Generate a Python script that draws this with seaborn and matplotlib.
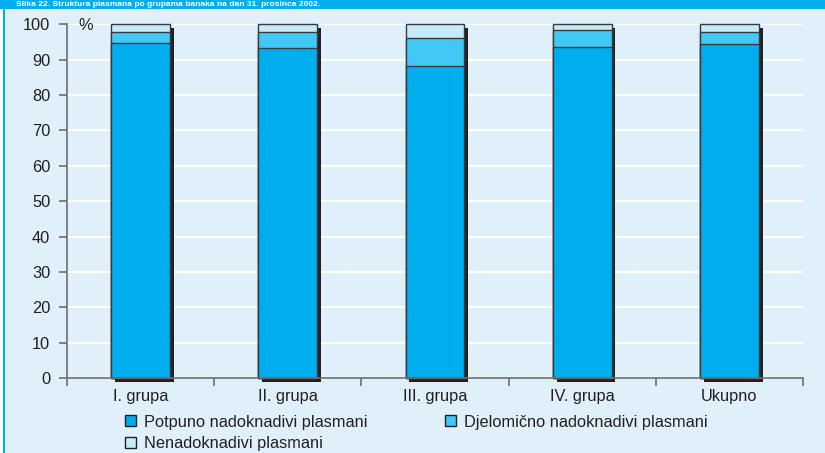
import matplotlib
matplotlib.use('Agg')
import matplotlib.pyplot as plt
import matplotlib.patheffects as pe
from matplotlib.patches import Patch, Rectangle
import seaborn as sns

# podaci procitani sa slike (%)
grupe = ['I. grupa', 'II. grupa', 'III. grupa', 'IV. grupa', 'Ukupno']
potpuno = [94.6, 93.2, 88.1, 93.7, 94.3]
djelomicno = [3.3, 4.5, 7.9, 4.6, 3.4]
nenadoknadivi = [2.1, 2.3, 4.0, 1.7, 2.3]
serije = ['Potpuno nadoknadivi plasmani', 'Djelomično nadoknadivi plasmani', 'Nenadoknadivi plasmani']

c_pot = '#00aeef'
c_dje = '#42c8f4'
c_nen = '#c8eaf9'
bg = '#dff0fa'
sjena = '#231f20'

sns.set_theme(style='white')
plt.rcParams['font.family'] = ['Liberation Sans', 'DejaVu Sans']

fig = plt.figure(figsize=(8.25, 4.53), dpi=100)
fig.patch.set_facecolor(bg)
ax = fig.add_axes([67/825, 1-378/453, (803-67)/825, (378-24.3)/453])
ax.set_facecolor(bg)

# naslovna traka
fig.patches.append(Rectangle((0, 1-9/453), 1, 9/453, transform=fig.transFigure,
                             facecolor='#00aeef', edgecolor='none', zorder=0))
fig.patches.append(Rectangle((0, 0), 3/825, 1-9/453, transform=fig.transFigure,
                             facecolor='white', edgecolor='none', zorder=0))
fig.patches.append(Rectangle((3/825, 0), 2/825, 1-9/453, transform=fig.transFigure,
                             facecolor='#00aeef', edgecolor='none', zorder=0))
fig.text(16/825, 1-4.5/453, 'Slika 22. Struktura plasmana po grupama banaka na dan 31. prosinca 2002.',
         color='white', fontsize=6, fontweight='bold', va='center', ha='left')

ukupno = [p + d + n for p, d, n in zip(potpuno, djelomicno, nenadoknadivi)]
pd_sum = [p + d for p, d in zip(potpuno, djelomicno)]

for vals, col in [(ukupno, c_nen), (pd_sum, c_dje), (potpuno, c_pot)]:
    n_before = len(ax.patches)
    sns.barplot(x=grupe, y=vals, color=col, saturation=1, width=0.4,
                edgecolor='#3a3a3a', linewidth=1, ax=ax)
    for p in ax.patches[n_before:]:
        p.set_clip_on(False)
        if col == c_nen:
            p.set_path_effects([pe.SimplePatchShadow(offset=(2.7, -2.7), shadow_rgbFace=sjena, alpha=1),
                                pe.Normal()])

ax.set_xlim(-0.5, 4.5)
ax.set_ylim(0, 100)
ax.set_yticks(range(0, 101, 10))
ax.yaxis.grid(True, color='white', linewidth=1.6)
ax.set_axisbelow(True)
ax.set_xlabel('')
ax.set_ylabel('')

for s in ['top', 'right']:
    ax.spines[s].set_visible(False)
for s in ['left', 'bottom']:
    ax.spines[s].set_color('#6d6e70')
    ax.spines[s].set_linewidth(1.2)

ax.set_xticks(range(5))
ax.set_xticklabels(grupe)
ax.set_xticks([i - 0.5 for i in range(6)], minor=True)
ax.tick_params(axis='x', which='major', length=0, pad=8, labelsize=11.8, labelcolor='#231f20')
ax.tick_params(axis='x', which='minor', direction='out', length=6, width=1.2, color='#6d6e70', bottom=True)
ax.tick_params(axis='y', direction='out', length=6, width=1.2, color='#6d6e70', pad=6,
               labelsize=11.8, labelcolor='#231f20', left=True)

fig.text(78/825, 1-26/453, '%', fontsize=11.8, color='#231f20', va='center', ha='left')

handles = [Patch(facecolor=c_pot, edgecolor='#231f20', linewidth=1),
           Patch(facecolor=c_nen, edgecolor='#231f20', linewidth=1),
           Patch(facecolor=c_dje, edgecolor='#231f20', linewidth=1)]
labels = [serije[0], serije[2], serije[1]]
fig.legend(handles, labels, loc='upper left', bbox_to_anchor=(125/825, 1-414.5/453),
           ncol=2, frameon=False, fontsize=11.8, handlelength=0.65, handleheight=0.65,
           handletextpad=0.5, columnspacing=4.75, labelspacing=0.4, borderpad=0,
           borderaxespad=0, labelcolor='#231f20')

fig.savefig('out.png', dpi=100, facecolor=bg)
